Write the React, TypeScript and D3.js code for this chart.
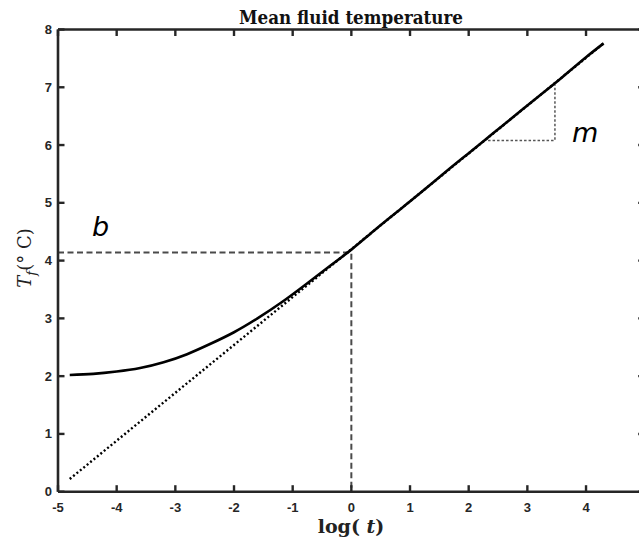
import React from "react";
import * as d3 from "d3";

const curveX = [-4.8, -4.4, -4.0, -3.6, -3.2, -2.8, -2.4, -2.0, -1.6, -1.2, -0.8, -0.4, 0, 0.4, 0.8, 1.2, 1.6, 2.0, 2.4, 2.8, 3.2, 3.6, 4.0, 4.3];
const curveY = [2.02, 2.04, 2.08, 2.14, 2.24, 2.38, 2.56, 2.76, 3.0, 3.27, 3.57, 3.88, 4.19, 4.53, 4.86, 5.19, 5.53, 5.86, 6.19, 6.52, 6.85, 7.18, 7.52, 7.76];
const fitX = [-4.8, 4.3];
const fitY = [0.22, 7.76];
const bValue = 4.14;
const slopeX = [2.33, 3.47];
const slopeY = [6.08, 7.04];
const xTicks = [-5, -4, -3, -2, -1, 0, 1, 2, 3, 4, 5];
const xTickLabels = ["-5", "-4", "-3", "-2", "-1", "0", "1", "2", "3", "4", ""];
const yTicks = [0, 1, 2, 3, 4, 5, 6, 7, 8];

export default function App() {
  const W = 639, H = 537;
  const x = d3.scaleLinear().domain([-5, 5]).range([58, 644.7]);
  const y = d3.scaleLinear().domain([0, 8]).range([491.7, 29.5]);
  const line = d3.line<[number, number]>().x(d => x(d[0])).y(d => y(d[1])).curve(d3.curveNatural);
  const straight = d3.line<[number, number]>().x(d => x(d[0])).y(d => y(d[1]));
  const curvePts = curveX.map((v, i) => [v, curveY[i]] as [number, number]);
  const fitPts = fitX.map((v, i) => [v, fitY[i]] as [number, number]);
  const axisColor = "#262626";
  const tickLen = 6.5;
  const tickFont = { fontFamily: "'Liberation Sans', Arial, sans-serif", fontWeight: 700, fontSize: 13, fill: "#262626" } as const;
  return (
    <svg width={W} height={H} style={{ position: "absolute", left: 0, top: 0, background: "#fff" }}>
      <rect x={0} y={0} width={W} height={H} fill="#fff" />
      <path d={`M${x(-5)},${y(bValue)}H${x(0)}V${y(0)}`} fill="none" stroke="#4a4a4a" strokeWidth={2} strokeDasharray="6,3.5" />
      <path d={`M${x(slopeX[0])},${y(slopeY[0])}H${x(slopeX[1])}V${y(slopeY[1])}`} fill="none" stroke="#555" strokeWidth={1.5} strokeDasharray="2.5,2" />
      <path d={straight(fitPts) || ""} fill="none" stroke="#000" strokeWidth={2.4} strokeDasharray="2,2.4" />
      <path d={line(curvePts) || ""} fill="none" stroke="#000" strokeWidth={2.6} />
      <line x1={x(-5)} x2={x(5)} y1={y(0)} y2={y(0)} stroke={axisColor} strokeWidth={2.6} />
      <line x1={x(-5)} x2={x(5)} y1={y(8)} y2={y(8)} stroke={axisColor} strokeWidth={2.6} />
      <line x1={x(-5)} x2={x(-5)} y1={y(0)} y2={y(8)} stroke={axisColor} strokeWidth={2.6} />
      <line x1={x(5)} x2={x(5)} y1={y(0)} y2={y(8)} stroke={axisColor} strokeWidth={2.6} />
      {xTicks.map(t => (
        <g key={"xt" + t}>
          <line x1={x(t)} x2={x(t)} y1={y(0)} y2={y(0) - tickLen} stroke={axisColor} strokeWidth={2.4} />
          <line x1={x(t)} x2={x(t)} y1={y(8)} y2={y(8) + tickLen} stroke={axisColor} strokeWidth={2.4} />
        </g>
      ))}
      {yTicks.map(t => (
        <g key={"yt" + t}>
          <line x1={x(-5)} x2={x(-5) + tickLen} y1={y(t)} y2={y(t)} stroke={axisColor} strokeWidth={2.4} />
          <line x1={x(5)} x2={x(5) - tickLen} y1={y(t)} y2={y(t)} stroke={axisColor} strokeWidth={2.4} />
          <text x={x(-5) - 6} y={y(t)} dy="0.35em" textAnchor="end" {...tickFont}>{t}</text>
        </g>
      ))}
      {xTicks.map((t, i) => (
        <text key={"xl" + t} x={x(t)} y={y(0) + 20} textAnchor="middle" {...tickFont}>{xTickLabels[i]}</text>
      ))}
      <text x={351} y={24} textAnchor="middle" fontFamily="'DejaVu Serif', serif" fontWeight={700} fontSize={18} textLength={224} lengthAdjust="spacingAndGlyphs" fill="#111">Mean fluid  temperature</text>
      <text x={351} y={533} textAnchor="middle" fontFamily="'DejaVu Serif', serif" fontWeight={700} fontSize={19} fill="#222">log( <tspan fontStyle="italic">t</tspan>)</text>
      <text transform="translate(31,258) rotate(-90)" textAnchor="middle" fontFamily="'DejaVu Serif', serif" fontSize={18} fill="#222">
        <tspan fontStyle="italic">T</tspan>
        <tspan fontStyle="italic" fontSize={13} dy={5}>f</tspan>
        <tspan dy={-5}>(° C)</tspan>
      </text>
      <text x={92} y={236} fontFamily="'DejaVu Sans', sans-serif" fontStyle="italic" fontSize={27} fill="#000">b</text>
      <text x={572} y={142} fontFamily="'DejaVu Sans', sans-serif" fontStyle="italic" fontSize={27} fill="#000">m</text>
    </svg>
  );
}
